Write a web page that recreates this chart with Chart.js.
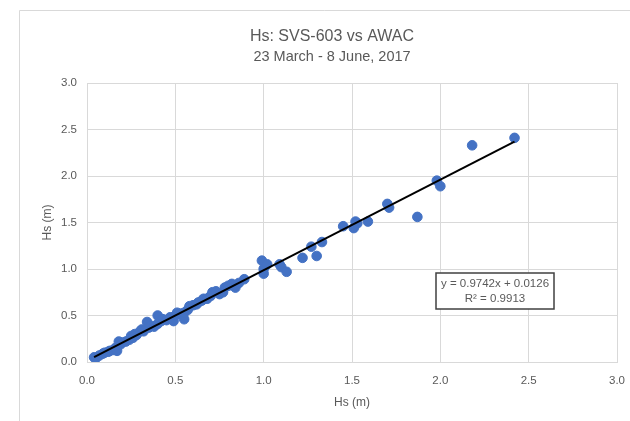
<!DOCTYPE html>
<html>
<head>
<meta charset="utf-8">
<script src="https://cdn.jsdelivr.net/npm/chart.js@4.4.1/dist/chart.umd.min.js"></script>
<style>
  html, body { margin: 0; padding: 0; background: #fff; }
  #wrap { width: 630px; height: 421px; }
</style>
</head>
<body>
<div id="wrap"><canvas id="hsChart"></canvas></div>
<script>
// AWAC Hs (x) vs SVS-603 Hs (y), metres
var awacHs = [0.04, 0.05, 0.07, 0.09, 0.10, 0.12, 0.13, 0.15, 0.16, 0.17, 0.18, 0.19, 0.20, 0.22, 0.24, 0.25,
  0.26, 0.27, 0.28, 0.30, 0.31, 0.32, 0.34, 0.35, 0.36, 0.38, 0.40, 0.40, 0.42, 0.43, 0.45, 0.47,
  0.48, 0.49, 0.50, 0.51, 0.53, 0.55, 0.55, 0.57, 0.58, 0.60, 0.62, 0.63, 0.65, 0.66, 0.68, 0.70,
  0.71, 0.73, 0.75, 0.77, 0.78, 0.80, 0.82, 0.84, 0.86, 0.89, 0.99, 1.00, 1.00, 1.02, 1.09, 1.10,
  1.13, 1.22, 1.27, 1.30, 1.33, 1.45, 1.51, 1.53, 1.52, 1.59, 1.70, 1.71, 1.87, 1.98, 2.00, 2.18, 2.42];
var svsHs = [0.05, 0.04, 0.07, 0.09, 0.10, 0.11, 0.12, 0.13, 0.15, 0.12, 0.22, 0.19, 0.21, 0.22, 0.24, 0.28,
  0.26, 0.30, 0.29, 0.33, 0.35, 0.33, 0.43, 0.37, 0.39, 0.38, 0.41, 0.50, 0.44, 0.46, 0.45, 0.48,
  0.46, 0.44, 0.50, 0.53, 0.52, 0.46, 0.53, 0.56, 0.60, 0.61, 0.62, 0.64, 0.66, 0.68, 0.68, 0.71,
  0.75, 0.76, 0.73, 0.75, 0.80, 0.82, 0.84, 0.80, 0.85, 0.89, 1.09, 1.00, 0.95, 1.05, 1.05, 1.02,
  0.97, 1.12, 1.24, 1.14, 1.29, 1.46, 1.44, 1.49, 1.51, 1.51, 1.70, 1.66, 1.56, 1.95, 1.89, 2.33, 2.41];

// linear trendline as printed on the chart
var slope = 0.9742;
var intercept = 0.0126;
var rSquared = 0.9913;

var axisTicks = ['0.0', '0.5', '1.0', '1.5', '2.0', '2.5', '3.0'];

var points = [];
for (var i = 0; i < awacHs.length; i++) {
  points.push({ x: awacHs[i], y: svsHs[i] });
}
var xMin = Math.min.apply(null, awacHs);
var xMax = Math.max.apply(null, awacHs);
var trend = [
  { x: xMin, y: slope * xMin + intercept },
  { x: xMax, y: slope * xMax + intercept }
];

var labelFont = '"Liberation Sans", Arial, sans-serif';
var greyText = '#595959';
var gridGrey = '#d9d9d9';

// frame, titles and the equation box, Excel style
var extras = {
  id: 'extras',
  beforeDraw: function (chart) {
    var c = chart.ctx;
    c.save();
    c.fillStyle = '#fff';
    c.fillRect(0, 0, chart.width, chart.height);
    c.strokeStyle = gridGrey;
    c.lineWidth = 1;
    c.beginPath();
    c.moveTo(19.5, chart.height);
    c.lineTo(19.5, 10.5);
    c.lineTo(chart.width, 10.5);
    c.stroke();
    c.restore();
  },
  afterDraw: function (chart) {
    var c = chart.ctx;
    c.save();
    c.fillStyle = greyText;
    c.textAlign = 'center';
    c.textBaseline = 'middle';
    c.font = '16px ' + labelFont;
    c.fillText('Hs: SVS-603 vs AWAC', 332, 37);
    c.font = '14.5px ' + labelFont;
    c.fillText('23 March - 8 June, 2017', 332, 57);

    // equation box
    var bx = 436, by = 273, bw = 118, bh = 36;
    c.fillStyle = '#fff';
    c.fillRect(bx, by, bw, bh);
    c.strokeStyle = '#404040';
    c.lineWidth = 1.5;
    c.strokeRect(bx, by, bw, bh);
    c.fillStyle = greyText;
    c.font = '11.5px ' + labelFont;
    c.fillText('y = ' + slope + 'x + ' + intercept, bx + bw / 2, by + 11);
    c.fillText('R\u00b2 = ' + rSquared, bx + bw / 2, by + 26);
    c.restore();
  }
};

var ctx = document.getElementById('hsChart').getContext('2d');
var chart = new Chart(ctx, {
  type: 'scatter',
  data: {
    datasets: [{
      label: 'Hs',
      data: points,
      backgroundColor: '#4472C4',
      borderColor: '#4472C4',
      pointRadius: 4.8,
      pointHoverRadius: 4.8,
      order: 2
    }, {
      label: 'Linear (Hs)',
      type: 'line',
      data: trend,
      borderColor: '#000',
      borderWidth: 2,
      pointRadius: 0,
      fill: false,
      order: 1
    }]
  },
  options: {
    responsive: true,
    maintainAspectRatio: false,
    animation: false,
    layout: { padding: { top: 83, left: 0, right: 13, bottom: 0 } },
    plugins: {
      legend: { display: false },
      tooltip: { enabled: false }
    },
    scales: {
      x: {
        type: 'linear',
        min: 0,
        max: 3,
        afterFit: function (scale) {
          scale.height = 59;
          scale.paddingLeft = 0;
          scale.paddingRight = 0;
        },
        afterBuildTicks: function (scale) {
          scale.ticks = axisTicks.map(function (t) { return { value: parseFloat(t) }; });
        },
        ticks: {
          padding: 12,
          color: greyText,
          font: { family: labelFont, size: 11.5 },
          callback: function (v) { return axisTicks[Math.round(v * 2)]; }
        },
        grid: { color: gridGrey, drawTicks: false },
        border: { color: gridGrey },
        title: {
          display: true,
          text: 'Hs (m)',
          color: greyText,
          font: { family: labelFont, size: 12 },
          padding: { top: 0, bottom: 11 }
        }
      },
      y: {
        type: 'linear',
        min: 0,
        max: 3,
        afterFit: function (scale) { scale.width = 87; },
        afterBuildTicks: function (scale) {
          scale.ticks = axisTicks.map(function (t) { return { value: parseFloat(t) }; });
        },
        ticks: {
          padding: 10,
          color: greyText,
          font: { family: labelFont, size: 11.5 },
          callback: function (v) { return axisTicks[Math.round(v * 2)]; }
        },
        grid: { color: gridGrey, drawTicks: false },
        border: { color: gridGrey },
        title: {
          display: true,
          text: 'Hs (m)',
          color: greyText,
          font: { family: labelFont, size: 12 },
          padding: { top: 40, bottom: 0 }
        }
      }
    }
  },
  plugins: [extras]
});
</script>
</body>
</html>
